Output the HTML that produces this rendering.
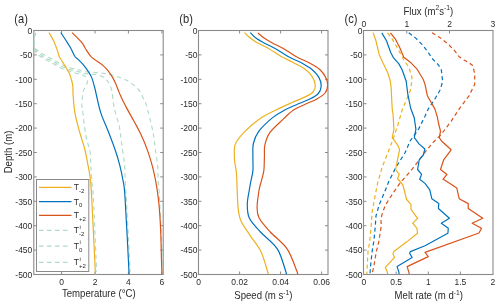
<!DOCTYPE html>
<html><head><meta charset="utf-8"><style>
html,body{margin:0;padding:0;background:#fff;width:500px;height:307px;overflow:hidden}
svg{display:block;will-change:transform}
text{font-family:"Liberation Sans",sans-serif}
</style></head><body>
<svg width="500" height="307" viewBox="0 0 500 307">
<defs>
<clipPath id="ca"><rect x="33.8" y="30.5" width="129.39999999999998" height="244.0"/></clipPath>
<clipPath id="cb"><rect x="198.5" y="30.5" width="129.5" height="244.0"/></clipPath>
<clipPath id="cc"><rect x="363.5" y="30.5" width="129.5" height="244.0"/></clipPath>
</defs>
<rect x="33.8" y="30.5" width="129.39999999999998" height="244.0" fill="none" stroke="#8a8a8a" stroke-width="1.1"/>
<path d="M33.8,30.50 h3.0" stroke="#8a8a8a" stroke-width="1"/>
<path d="M163.2,30.50 h-3.0" stroke="#8a8a8a" stroke-width="1"/>
<path d="M33.8,54.90 h3.0" stroke="#8a8a8a" stroke-width="1"/>
<path d="M163.2,54.90 h-3.0" stroke="#8a8a8a" stroke-width="1"/>
<path d="M33.8,79.30 h3.0" stroke="#8a8a8a" stroke-width="1"/>
<path d="M163.2,79.30 h-3.0" stroke="#8a8a8a" stroke-width="1"/>
<path d="M33.8,103.70 h3.0" stroke="#8a8a8a" stroke-width="1"/>
<path d="M163.2,103.70 h-3.0" stroke="#8a8a8a" stroke-width="1"/>
<path d="M33.8,128.10 h3.0" stroke="#8a8a8a" stroke-width="1"/>
<path d="M163.2,128.10 h-3.0" stroke="#8a8a8a" stroke-width="1"/>
<path d="M33.8,152.50 h3.0" stroke="#8a8a8a" stroke-width="1"/>
<path d="M163.2,152.50 h-3.0" stroke="#8a8a8a" stroke-width="1"/>
<path d="M33.8,176.90 h3.0" stroke="#8a8a8a" stroke-width="1"/>
<path d="M163.2,176.90 h-3.0" stroke="#8a8a8a" stroke-width="1"/>
<path d="M33.8,201.30 h3.0" stroke="#8a8a8a" stroke-width="1"/>
<path d="M163.2,201.30 h-3.0" stroke="#8a8a8a" stroke-width="1"/>
<path d="M33.8,225.70 h3.0" stroke="#8a8a8a" stroke-width="1"/>
<path d="M163.2,225.70 h-3.0" stroke="#8a8a8a" stroke-width="1"/>
<path d="M33.8,250.10 h3.0" stroke="#8a8a8a" stroke-width="1"/>
<path d="M163.2,250.10 h-3.0" stroke="#8a8a8a" stroke-width="1"/>
<path d="M33.8,274.50 h3.0" stroke="#8a8a8a" stroke-width="1"/>
<path d="M163.2,274.50 h-3.0" stroke="#8a8a8a" stroke-width="1"/>
<path d="M61.60,274.5 v-3.0" stroke="#8a8a8a" stroke-width="1"/>
<path d="M61.60,30.5 v3.0" stroke="#8a8a8a" stroke-width="1"/>
<path d="M95.00,274.5 v-3.0" stroke="#8a8a8a" stroke-width="1"/>
<path d="M95.00,30.5 v3.0" stroke="#8a8a8a" stroke-width="1"/>
<path d="M128.40,274.5 v-3.0" stroke="#8a8a8a" stroke-width="1"/>
<path d="M128.40,30.5 v3.0" stroke="#8a8a8a" stroke-width="1"/>
<path d="M161.80,274.5 v-3.0" stroke="#8a8a8a" stroke-width="1"/>
<path d="M161.80,30.5 v3.0" stroke="#8a8a8a" stroke-width="1"/>
<text transform="translate(32.3,33.7) scale(1,1.08)" font-size="8.5" text-anchor="end" fill="#2a2a2a">0</text>
<text transform="translate(32.3,58.1) scale(1,1.08)" font-size="8.5" text-anchor="end" fill="#2a2a2a">-50</text>
<text transform="translate(32.3,82.5) scale(1,1.08)" font-size="8.5" text-anchor="end" fill="#2a2a2a">-100</text>
<text transform="translate(32.3,106.9) scale(1,1.08)" font-size="8.5" text-anchor="end" fill="#2a2a2a">-150</text>
<text transform="translate(32.3,131.29999999999998) scale(1,1.08)" font-size="8.5" text-anchor="end" fill="#2a2a2a">-200</text>
<text transform="translate(32.3,155.7) scale(1,1.08)" font-size="8.5" text-anchor="end" fill="#2a2a2a">-250</text>
<text transform="translate(32.3,180.1) scale(1,1.08)" font-size="8.5" text-anchor="end" fill="#2a2a2a">-300</text>
<text transform="translate(32.3,204.5) scale(1,1.08)" font-size="8.5" text-anchor="end" fill="#2a2a2a">-350</text>
<text transform="translate(32.3,228.89999999999998) scale(1,1.08)" font-size="8.5" text-anchor="end" fill="#2a2a2a">-400</text>
<text transform="translate(32.3,253.29999999999998) scale(1,1.08)" font-size="8.5" text-anchor="end" fill="#2a2a2a">-450</text>
<text transform="translate(32.3,277.7) scale(1,1.08)" font-size="8.5" text-anchor="end" fill="#2a2a2a">-500</text>
<text transform="translate(61.6,285.4) scale(1,1.08)" font-size="8.5" text-anchor="middle" fill="#2a2a2a">0</text>
<text transform="translate(95.0,285.4) scale(1,1.08)" font-size="8.5" text-anchor="middle" fill="#2a2a2a">2</text>
<text transform="translate(128.4,285.4) scale(1,1.08)" font-size="8.5" text-anchor="middle" fill="#2a2a2a">4</text>
<text transform="translate(161.8,285.4) scale(1,1.08)" font-size="8.5" text-anchor="middle" fill="#2a2a2a">6</text>
<text transform="translate(98.8,296.6) scale(1,1.08)" font-size="9.6" text-anchor="middle" fill="#2a2a2a">Temperature (°C)</text>
<text transform="translate(12.1,152) rotate(-90) scale(1,1.08)" font-size="9.6" text-anchor="middle" fill="#2a2a2a">Depth (m)</text>
<text transform="translate(21.1,23.2) scale(1,1.08)" font-size="11.1" text-anchor="middle" fill="#2a2a2a">(a)</text>
<g clip-path="url(#ca)">
<path d="M35.80,33.00 C35.57,33.67 34.68,35.33 34.40,37.00 C34.12,38.67 34.10,41.17 34.10,43.00 C34.10,44.83 34.02,46.28 34.40,48.00 C34.78,49.72 35.10,51.70 36.40,53.30 C37.70,54.90 40.08,56.25 42.20,57.60 C44.32,58.95 46.75,60.10 49.10,61.40 C51.45,62.70 53.90,64.10 56.30,65.40 C58.70,66.70 61.05,68.13 63.50,69.20 C65.95,70.27 68.42,71.03 71.00,71.80 C73.58,72.57 77.50,73.45 79.00,73.80 C80.50,74.15 79.00,73.48 80.00,73.90 C81.00,74.32 83.75,75.10 85.00,76.30 C86.25,77.50 87.33,79.48 87.50,81.10 C87.67,82.72 86.68,84.37 86.00,86.00 C85.32,87.63 84.10,87.92 83.40,90.90 C82.70,93.88 81.98,101.05 81.80,103.90 C81.62,106.75 81.63,102.75 82.30,108.00 C82.97,113.25 84.52,128.13 85.80,135.40 C87.08,142.67 89.17,146.45 90.00,151.60 C90.83,156.75 90.47,161.13 90.80,166.30 C91.13,171.47 91.55,176.98 92.00,182.60 C92.45,188.22 92.73,185.13 93.50,200.00 C94.27,214.87 96.08,259.83 96.60,271.80" fill="none" stroke="#ADDAC4" stroke-width="1.1" stroke-dasharray="4.5 3.5" stroke-linejoin="round"/>
<path d="M35.80,33.00 C35.57,33.67 34.68,35.33 34.40,37.00 C34.12,38.67 34.10,41.17 34.10,43.00 C34.10,44.83 34.02,46.60 34.40,48.00 C34.78,49.40 35.10,50.12 36.40,51.40 C37.70,52.68 40.08,54.35 42.20,55.70 C44.32,57.05 46.75,58.20 49.10,59.50 C51.45,60.80 53.90,62.20 56.30,63.50 C58.70,64.80 61.05,66.23 63.50,67.30 C65.95,68.37 68.42,69.13 71.00,69.90 C73.58,70.67 76.80,71.30 79.00,71.90 C81.20,72.50 81.43,73.05 84.20,73.50 C86.97,73.95 92.62,74.10 95.60,74.60 C98.58,75.10 100.37,75.68 102.10,76.50 C103.83,77.32 104.90,78.47 106.00,79.50 C107.10,80.53 107.72,80.80 108.70,82.70 C109.68,84.60 111.10,87.37 111.90,90.90 C112.70,94.43 112.87,100.08 113.50,103.90 C114.13,107.72 114.72,109.95 115.70,113.80 C116.68,117.65 118.42,122.12 119.40,127.00 C120.38,131.88 120.75,136.82 121.60,143.10 C122.45,149.38 123.88,158.17 124.50,164.70 C125.12,171.23 124.98,176.42 125.30,182.30 C125.62,188.18 125.58,185.08 126.40,200.00 C127.22,214.92 129.57,259.83 130.20,271.80" fill="none" stroke="#ADDAC4" stroke-width="1.1" stroke-dasharray="4.5 3.5" stroke-linejoin="round"/>
<path d="M35.80,33.00 C35.57,33.67 34.68,35.33 34.40,37.00 C34.12,38.67 34.10,41.17 34.10,43.00 C34.10,44.83 34.02,46.92 34.40,48.00 C34.78,49.08 35.10,48.53 36.40,49.50 C37.70,50.47 40.08,52.45 42.20,53.80 C44.32,55.15 46.75,56.30 49.10,57.60 C51.45,58.90 53.90,60.30 56.30,61.60 C58.70,62.90 61.05,64.33 63.50,65.40 C65.95,66.47 68.42,67.23 71.00,68.00 C73.58,68.77 76.80,69.40 79.00,70.00 C81.20,70.60 81.43,71.17 84.20,71.60 C86.97,72.03 92.13,72.27 95.60,72.60 C99.07,72.93 101.48,72.95 105.00,73.60 C108.52,74.25 112.78,75.20 116.70,76.50 C120.62,77.80 124.92,79.28 128.50,81.40 C132.08,83.52 135.60,86.12 138.20,89.20 C140.80,92.28 142.72,97.15 144.10,99.90 C145.48,102.65 145.37,101.92 146.50,105.70 C147.63,109.48 149.67,117.33 150.90,122.60 C152.13,127.87 153.17,132.90 153.90,137.30 C154.63,141.70 154.70,144.43 155.30,149.00 C155.90,153.57 157.00,159.15 157.50,164.70 C158.00,170.25 158.00,177.42 158.30,182.30 C158.60,187.18 158.52,178.93 159.30,194.00 C160.08,209.07 162.38,259.58 163.00,272.70" fill="none" stroke="#ADDAC4" stroke-width="1.1" stroke-dasharray="4.5 3.5" stroke-linejoin="round"/>
<path d="M49.00,32.60 C49.75,33.92 52.08,37.47 53.50,40.50 C54.92,43.53 56.55,48.13 57.50,50.80 C58.45,53.47 58.32,54.60 59.20,56.50 C60.08,58.40 61.60,60.23 62.80,62.20 C64.00,64.17 65.27,66.33 66.40,68.30 C67.53,70.27 68.75,72.05 69.60,74.00 C70.45,75.95 70.97,78.00 71.50,80.00 C72.03,82.00 72.53,83.50 72.80,86.00 C73.07,88.50 72.75,90.52 73.10,95.00 C73.45,99.48 73.87,106.93 74.90,112.90 C75.93,118.87 77.67,124.78 79.30,130.80 C80.93,136.82 83.27,143.35 84.70,149.00 C86.13,154.65 86.95,159.65 87.90,164.70 C88.85,169.75 89.75,173.42 90.40,179.30 C91.05,185.18 90.98,184.58 91.80,200.00 C92.62,215.42 94.68,259.47 95.30,271.80 C95.92,284.13 95.47,273.63 95.50,274.00" fill="none" stroke="#EDB120" stroke-width="1.2" stroke-linejoin="round"/>
<path d="M60.80,32.60 C61.67,33.92 64.35,37.93 66.00,40.50 C67.65,43.07 69.23,45.38 70.70,48.00 C72.17,50.62 73.65,54.38 74.80,56.20 C75.95,58.02 76.23,57.53 77.60,58.90 C78.97,60.27 81.18,62.23 83.00,64.40 C84.82,66.57 87.02,69.62 88.50,71.90 C89.98,74.18 90.87,75.47 91.90,78.10 C92.93,80.73 93.95,84.88 94.70,87.70 C95.45,90.52 95.38,90.80 96.40,95.00 C97.42,99.20 98.87,106.93 100.80,112.90 C102.73,118.87 105.60,124.62 108.00,130.80 C110.40,136.98 113.27,144.35 115.20,150.00 C117.13,155.65 118.32,159.70 119.60,164.70 C120.88,169.70 122.00,174.62 122.90,180.00 C123.80,185.38 123.98,181.70 125.00,197.00 C126.02,212.30 128.32,258.97 129.00,271.80 C129.68,284.63 129.08,273.63 129.10,274.00" fill="none" stroke="#0072BD" stroke-width="1.2" stroke-linejoin="round"/>
<path d="M72.10,32.60 C73.73,34.28 79.73,40.13 81.90,42.70 C84.07,45.27 83.53,45.63 85.10,48.00 C86.67,50.37 88.30,53.97 91.30,56.90 C94.30,59.83 100.23,63.15 103.13,65.60 C106.03,68.05 107.12,69.60 108.71,71.60 C110.30,73.60 111.54,75.60 112.69,77.60 C113.83,79.60 114.72,81.60 115.60,83.60 C116.49,85.60 117.21,87.60 118.02,89.60 C118.83,91.60 119.59,93.60 120.47,95.60 C121.35,97.60 122.31,99.60 123.30,101.60 C124.30,103.60 125.36,105.60 126.44,107.60 C127.51,109.60 128.64,111.60 129.75,113.60 C130.86,115.60 132.00,117.60 133.11,119.60 C134.22,121.60 135.34,123.60 136.40,125.60 C137.47,127.60 138.52,129.60 139.50,131.60 C140.49,133.60 141.43,135.60 142.33,137.60 C143.22,139.60 144.07,141.60 144.89,143.60 C145.70,145.60 146.46,147.60 147.19,149.60 C147.92,151.60 148.61,153.60 149.26,155.60 C149.91,157.60 150.52,159.60 151.10,161.60 C151.68,163.60 152.22,165.60 152.73,167.60 C153.24,169.60 153.72,171.60 154.17,173.60 C154.61,175.60 155.03,177.60 155.42,179.60 C155.81,181.60 156.17,183.60 156.50,185.60 C156.84,187.60 157.14,189.60 157.43,191.60 C157.72,193.60 157.98,195.60 158.22,197.60 C158.46,199.60 158.68,201.60 158.88,203.60 C159.08,205.60 159.26,207.60 159.43,209.60 C159.59,211.60 159.74,213.60 159.87,215.60 C160.01,217.60 160.13,219.60 160.24,221.60 C160.35,223.60 160.44,225.60 160.53,227.60 C160.62,229.60 160.70,231.60 160.77,233.60 C160.84,235.60 160.90,237.60 160.96,239.60 C161.02,241.60 161.07,243.60 161.12,245.60 C161.18,247.60 161.22,249.60 161.27,251.60 C161.32,253.60 161.37,255.60 161.42,257.60 C161.47,259.60 161.52,261.60 161.58,263.60 C161.64,265.60 161.71,267.87 161.77,269.60 C161.83,271.33 161.90,273.27 161.93,274.00" fill="none" stroke="#D95319" stroke-width="1.2" stroke-linejoin="round"/>
</g>
<rect x="36.5" y="179.5" width="52.3" height="92.0" fill="#fff" stroke="#8a8a8a" stroke-width="1"/>
<path d="M39,187.4 H71.5" stroke="#EDB120" stroke-width="1.2"/>
<text transform="translate(73.8,190.3) scale(1,1.08)" font-size="8.5" fill="#2a2a2a">T</text>
<text x="79" y="193.0" font-size="6" fill="#2a2a2a">-2</text>
<path d="M39,201.7 H71.5" stroke="#0072BD" stroke-width="1.2"/>
<text transform="translate(73.8,204.6) scale(1,1.08)" font-size="8.5" fill="#2a2a2a">T</text>
<text x="79" y="207.29999999999998" font-size="6" fill="#2a2a2a">0</text>
<path d="M39,215.3 H71.5" stroke="#D95319" stroke-width="1.2"/>
<text transform="translate(73.8,218.20000000000002) scale(1,1.08)" font-size="8.5" fill="#2a2a2a">T</text>
<text x="79" y="220.9" font-size="6" fill="#2a2a2a">+2</text>
<path d="M39,230.3 H68" stroke="#ADDAC4" stroke-width="1.2" stroke-dasharray="4.5 3.5"/>
<text transform="translate(73.8,233.20000000000002) scale(1,1.08)" font-size="8.5" fill="#2a2a2a">T</text>
<text x="79" y="235.9" font-size="6" fill="#2a2a2a">-2</text>
<text x="79.5" y="228.5" font-size="6" fill="#2a2a2a">i</text>
<path d="M39,246.2 H68" stroke="#ADDAC4" stroke-width="1.2" stroke-dasharray="4.5 3.5"/>
<text transform="translate(73.8,249.1) scale(1,1.08)" font-size="8.5" fill="#2a2a2a">T</text>
<text x="79" y="251.79999999999998" font-size="6" fill="#2a2a2a">0</text>
<text x="79.5" y="244.39999999999998" font-size="6" fill="#2a2a2a">i</text>
<path d="M39,262.4 H68" stroke="#ADDAC4" stroke-width="1.2" stroke-dasharray="4.5 3.5"/>
<text transform="translate(73.8,265.29999999999995) scale(1,1.08)" font-size="8.5" fill="#2a2a2a">T</text>
<text x="79" y="268.0" font-size="6" fill="#2a2a2a">+2</text>
<text x="79.5" y="260.59999999999997" font-size="6" fill="#2a2a2a">i</text>
<rect x="198.5" y="30.5" width="129.5" height="244.0" fill="none" stroke="#8a8a8a" stroke-width="1.1"/>
<path d="M198.5,30.50 h3.0" stroke="#8a8a8a" stroke-width="1"/>
<path d="M328.0,30.50 h-3.0" stroke="#8a8a8a" stroke-width="1"/>
<path d="M198.5,54.90 h3.0" stroke="#8a8a8a" stroke-width="1"/>
<path d="M328.0,54.90 h-3.0" stroke="#8a8a8a" stroke-width="1"/>
<path d="M198.5,79.30 h3.0" stroke="#8a8a8a" stroke-width="1"/>
<path d="M328.0,79.30 h-3.0" stroke="#8a8a8a" stroke-width="1"/>
<path d="M198.5,103.70 h3.0" stroke="#8a8a8a" stroke-width="1"/>
<path d="M328.0,103.70 h-3.0" stroke="#8a8a8a" stroke-width="1"/>
<path d="M198.5,128.10 h3.0" stroke="#8a8a8a" stroke-width="1"/>
<path d="M328.0,128.10 h-3.0" stroke="#8a8a8a" stroke-width="1"/>
<path d="M198.5,152.50 h3.0" stroke="#8a8a8a" stroke-width="1"/>
<path d="M328.0,152.50 h-3.0" stroke="#8a8a8a" stroke-width="1"/>
<path d="M198.5,176.90 h3.0" stroke="#8a8a8a" stroke-width="1"/>
<path d="M328.0,176.90 h-3.0" stroke="#8a8a8a" stroke-width="1"/>
<path d="M198.5,201.30 h3.0" stroke="#8a8a8a" stroke-width="1"/>
<path d="M328.0,201.30 h-3.0" stroke="#8a8a8a" stroke-width="1"/>
<path d="M198.5,225.70 h3.0" stroke="#8a8a8a" stroke-width="1"/>
<path d="M328.0,225.70 h-3.0" stroke="#8a8a8a" stroke-width="1"/>
<path d="M198.5,250.10 h3.0" stroke="#8a8a8a" stroke-width="1"/>
<path d="M328.0,250.10 h-3.0" stroke="#8a8a8a" stroke-width="1"/>
<path d="M198.5,274.50 h3.0" stroke="#8a8a8a" stroke-width="1"/>
<path d="M328.0,274.50 h-3.0" stroke="#8a8a8a" stroke-width="1"/>
<path d="M239.60,274.5 v-3.0" stroke="#8a8a8a" stroke-width="1"/>
<path d="M239.60,30.5 v3.0" stroke="#8a8a8a" stroke-width="1"/>
<path d="M280.60,274.5 v-3.0" stroke="#8a8a8a" stroke-width="1"/>
<path d="M280.60,30.5 v3.0" stroke="#8a8a8a" stroke-width="1"/>
<path d="M321.60,274.5 v-3.0" stroke="#8a8a8a" stroke-width="1"/>
<path d="M321.60,30.5 v3.0" stroke="#8a8a8a" stroke-width="1"/>
<text transform="translate(197.5,33.7) scale(1,1.08)" font-size="8.5" text-anchor="end" fill="#2a2a2a">0</text>
<text transform="translate(197.5,58.1) scale(1,1.08)" font-size="8.5" text-anchor="end" fill="#2a2a2a">-50</text>
<text transform="translate(197.5,82.5) scale(1,1.08)" font-size="8.5" text-anchor="end" fill="#2a2a2a">-100</text>
<text transform="translate(197.5,106.9) scale(1,1.08)" font-size="8.5" text-anchor="end" fill="#2a2a2a">-150</text>
<text transform="translate(197.5,131.29999999999998) scale(1,1.08)" font-size="8.5" text-anchor="end" fill="#2a2a2a">-200</text>
<text transform="translate(197.5,155.7) scale(1,1.08)" font-size="8.5" text-anchor="end" fill="#2a2a2a">-250</text>
<text transform="translate(197.5,180.1) scale(1,1.08)" font-size="8.5" text-anchor="end" fill="#2a2a2a">-300</text>
<text transform="translate(197.5,204.5) scale(1,1.08)" font-size="8.5" text-anchor="end" fill="#2a2a2a">-350</text>
<text transform="translate(197.5,228.89999999999998) scale(1,1.08)" font-size="8.5" text-anchor="end" fill="#2a2a2a">-400</text>
<text transform="translate(197.5,253.29999999999998) scale(1,1.08)" font-size="8.5" text-anchor="end" fill="#2a2a2a">-450</text>
<text transform="translate(197.5,277.7) scale(1,1.08)" font-size="8.5" text-anchor="end" fill="#2a2a2a">-500</text>
<text transform="translate(198.5,285.4) scale(1,1.08)" font-size="8.5" text-anchor="middle" fill="#2a2a2a">0</text>
<text transform="translate(239.6,285.4) scale(1,1.08)" font-size="8.5" text-anchor="middle" fill="#2a2a2a">0.02</text>
<text transform="translate(280.6,285.4) scale(1,1.08)" font-size="8.5" text-anchor="middle" fill="#2a2a2a">0.04</text>
<text transform="translate(321.6,285.4) scale(1,1.08)" font-size="8.5" text-anchor="middle" fill="#2a2a2a">0.06</text>
<text transform="translate(263.4,299.3) scale(1,1.08)" font-size="9.6" text-anchor="middle" fill="#2a2a2a">Speed (m s<tspan font-size="6.8" dy="-4.4">-1</tspan><tspan dy="4.4">)</tspan></text>
<text transform="translate(186.1,23.2) scale(1,1.08)" font-size="11.1" text-anchor="middle" fill="#2a2a2a">(b)</text>
<g clip-path="url(#cb)">
<path d="M244.50,32.60 C245.25,33.33 246.88,35.32 249.00,37.00 C251.12,38.68 253.93,40.80 257.20,42.70 C260.47,44.60 264.52,46.05 268.60,48.40 C272.68,50.75 277.55,54.42 281.70,56.80 C285.85,59.18 289.75,60.73 293.50,62.70 C297.25,64.67 301.12,66.32 304.20,68.60 C307.28,70.88 310.15,73.63 312.00,76.40 C313.85,79.17 315.13,82.60 315.30,85.20 C315.47,87.80 314.68,90.05 313.00,92.00 C311.32,93.95 308.78,95.10 305.20,96.90 C301.62,98.70 296.38,100.62 291.50,102.80 C286.62,104.98 280.88,107.53 275.90,110.00 C270.92,112.47 266.72,114.07 261.60,117.60 C256.48,121.13 249.53,126.88 245.20,131.20 C240.87,135.52 237.42,140.07 235.60,143.50 C233.78,146.93 234.43,148.60 234.30,151.80 C234.17,155.00 234.43,159.07 234.80,162.70 C235.17,166.33 235.97,166.25 236.50,173.60 C237.03,180.95 237.27,198.93 238.00,206.80 C238.73,214.67 238.78,215.88 240.90,220.80 C243.02,225.72 247.35,231.15 250.70,236.30 C254.05,241.45 258.20,245.87 261.00,251.70 C263.80,257.53 266.33,267.58 267.50,271.30 C268.67,275.02 267.92,273.55 268.00,274.00" fill="none" stroke="#EDB120" stroke-width="1.2" stroke-linejoin="round"/>
<path d="M250.30,32.60 C251.18,33.47 253.37,36.12 255.60,37.80 C257.83,39.48 260.45,40.93 263.70,42.70 C266.95,44.47 270.95,46.05 275.10,48.40 C279.25,50.75 284.23,54.42 288.60,56.80 C292.97,59.18 297.40,60.58 301.30,62.70 C305.20,64.82 309.07,67.05 312.00,69.50 C314.93,71.95 317.37,74.62 318.90,77.40 C320.43,80.18 321.37,83.43 321.20,86.20 C321.03,88.97 320.08,91.73 317.90,94.00 C315.72,96.27 311.68,98.02 308.10,99.80 C304.52,101.58 300.30,103.00 296.40,104.70 C292.50,106.40 288.67,107.85 284.70,110.00 C280.73,112.15 276.90,114.07 272.60,117.60 C268.30,121.13 262.10,126.88 258.90,131.20 C255.70,135.52 254.40,139.17 253.40,143.50 C252.40,147.83 252.98,152.63 252.90,157.20 C252.82,161.77 253.27,166.80 252.90,170.90 C252.53,175.00 251.30,178.62 250.70,181.80 C250.10,184.98 249.87,186.30 249.30,190.00 C248.73,193.70 247.30,199.33 247.30,204.00 C247.30,208.67 247.10,213.33 249.30,218.00 C251.50,222.67 255.83,226.85 260.50,232.00 C265.17,237.15 273.10,242.35 277.30,248.90 C281.50,255.45 284.25,267.12 285.70,271.30 C287.15,275.48 285.95,273.55 286.00,274.00" fill="none" stroke="#0072BD" stroke-width="1.2" stroke-linejoin="round"/>
<path d="M257.70,32.90 C258.70,33.72 261.33,36.17 263.70,37.80 C266.07,39.43 268.63,40.93 271.90,42.70 C275.17,44.47 279.22,46.05 283.30,48.40 C287.38,50.75 292.10,54.42 296.40,56.80 C300.70,59.18 305.20,60.58 309.10,62.70 C313.00,64.82 317.03,67.05 319.80,69.50 C322.57,71.95 324.38,74.78 325.70,77.40 C327.02,80.02 327.80,82.60 327.70,85.20 C327.60,87.80 326.90,90.72 325.10,93.00 C323.30,95.28 320.38,96.95 316.90,98.90 C313.42,100.85 308.10,102.85 304.20,104.70 C300.30,106.55 296.95,107.63 293.50,110.00 C290.05,112.37 287.45,115.13 283.50,118.90 C279.55,122.67 272.90,128.27 269.80,132.60 C266.70,136.93 265.80,140.80 264.90,144.90 C264.00,149.00 264.58,152.87 264.40,157.20 C264.22,161.53 264.35,166.80 263.80,170.90 C263.25,175.00 261.88,178.62 261.10,181.80 C260.32,184.98 259.77,185.83 259.10,190.00 C258.43,194.17 257.10,202.13 257.10,206.80 C257.10,211.47 256.90,213.80 259.10,218.00 C261.30,222.20 265.63,226.85 270.30,232.00 C274.97,237.15 282.67,242.35 287.10,248.90 C291.53,255.45 295.20,267.12 296.90,271.30 C298.60,275.48 297.23,273.55 297.30,274.00" fill="none" stroke="#D95319" stroke-width="1.2" stroke-linejoin="round"/>
</g>
<rect x="363.5" y="30.5" width="129.5" height="244.0" fill="none" stroke="#8a8a8a" stroke-width="1.1"/>
<path d="M363.5,30.50 h3.0" stroke="#8a8a8a" stroke-width="1"/>
<path d="M363.5,54.90 h3.0" stroke="#8a8a8a" stroke-width="1"/>
<path d="M363.5,79.30 h3.0" stroke="#8a8a8a" stroke-width="1"/>
<path d="M363.5,103.70 h3.0" stroke="#8a8a8a" stroke-width="1"/>
<path d="M363.5,128.10 h3.0" stroke="#8a8a8a" stroke-width="1"/>
<path d="M363.5,152.50 h3.0" stroke="#8a8a8a" stroke-width="1"/>
<path d="M363.5,176.90 h3.0" stroke="#8a8a8a" stroke-width="1"/>
<path d="M363.5,201.30 h3.0" stroke="#8a8a8a" stroke-width="1"/>
<path d="M363.5,225.70 h3.0" stroke="#8a8a8a" stroke-width="1"/>
<path d="M363.5,250.10 h3.0" stroke="#8a8a8a" stroke-width="1"/>
<path d="M363.5,274.50 h3.0" stroke="#8a8a8a" stroke-width="1"/>
<path d="M396.20,274.5 v-3.0" stroke="#8a8a8a" stroke-width="1"/>
<path d="M428.30,274.5 v-3.0" stroke="#8a8a8a" stroke-width="1"/>
<path d="M460.40,274.5 v-3.0" stroke="#8a8a8a" stroke-width="1"/>
<path d="M406.80,30.5 v3.0" stroke="#8a8a8a" stroke-width="1"/>
<path d="M449.50,30.5 v3.0" stroke="#8a8a8a" stroke-width="1"/>
<text transform="translate(362.5,33.7) scale(1,1.08)" font-size="8.5" text-anchor="end" fill="#2a2a2a">0</text>
<text transform="translate(362.5,58.1) scale(1,1.08)" font-size="8.5" text-anchor="end" fill="#2a2a2a">-50</text>
<text transform="translate(362.5,82.5) scale(1,1.08)" font-size="8.5" text-anchor="end" fill="#2a2a2a">-100</text>
<text transform="translate(362.5,106.9) scale(1,1.08)" font-size="8.5" text-anchor="end" fill="#2a2a2a">-150</text>
<text transform="translate(362.5,131.29999999999998) scale(1,1.08)" font-size="8.5" text-anchor="end" fill="#2a2a2a">-200</text>
<text transform="translate(362.5,155.7) scale(1,1.08)" font-size="8.5" text-anchor="end" fill="#2a2a2a">-250</text>
<text transform="translate(362.5,180.1) scale(1,1.08)" font-size="8.5" text-anchor="end" fill="#2a2a2a">-300</text>
<text transform="translate(362.5,204.5) scale(1,1.08)" font-size="8.5" text-anchor="end" fill="#2a2a2a">-350</text>
<text transform="translate(362.5,228.89999999999998) scale(1,1.08)" font-size="8.5" text-anchor="end" fill="#2a2a2a">-400</text>
<text transform="translate(362.5,253.29999999999998) scale(1,1.08)" font-size="8.5" text-anchor="end" fill="#2a2a2a">-450</text>
<text transform="translate(362.5,277.7) scale(1,1.08)" font-size="8.5" text-anchor="end" fill="#2a2a2a">-500</text>
<text transform="translate(363.8,285.4) scale(1,1.08)" font-size="8.5" text-anchor="middle" fill="#2a2a2a">0</text>
<text transform="translate(396.2,285.4) scale(1,1.08)" font-size="8.5" text-anchor="middle" fill="#2a2a2a">0.5</text>
<text transform="translate(428.3,285.4) scale(1,1.08)" font-size="8.5" text-anchor="middle" fill="#2a2a2a">1</text>
<text transform="translate(460.4,285.4) scale(1,1.08)" font-size="8.5" text-anchor="middle" fill="#2a2a2a">1.5</text>
<text transform="translate(492.8,285.4) scale(1,1.08)" font-size="8.5" text-anchor="middle" fill="#2a2a2a">2</text>
<text transform="translate(363.8,26.5) scale(1,1.08)" font-size="8.5" text-anchor="middle" fill="#2a2a2a">0</text>
<text transform="translate(406.8,26.5) scale(1,1.08)" font-size="8.5" text-anchor="middle" fill="#2a2a2a">1</text>
<text transform="translate(449.5,26.5) scale(1,1.08)" font-size="8.5" text-anchor="middle" fill="#2a2a2a">2</text>
<text transform="translate(492.8,26.5) scale(1,1.08)" font-size="8.5" text-anchor="middle" fill="#2a2a2a">3</text>
<text transform="translate(428.8,299.3) scale(1,1.08)" font-size="9.6" text-anchor="middle" fill="#2a2a2a">Melt rate (m d<tspan font-size="6.8" dy="-4.4">-1</tspan><tspan dy="4.4">)</tspan></text>
<text transform="translate(428.4,14.8) scale(1,1.08)" font-size="9.6" text-anchor="middle" fill="#2a2a2a">Flux (m<tspan font-size="6.8" dy="-4.4">2</tspan><tspan dy="4.4">s</tspan><tspan font-size="6.8" dy="-4.4">-1</tspan><tspan dy="4.4">)</tspan></text>
<text transform="translate(351.0,23.2) scale(1,1.08)" font-size="11.1" text-anchor="middle" fill="#2a2a2a">(c)</text>
<g clip-path="url(#cc)">
<path d="M387.50,32.90 L391.50,37.80 L398.10,49.20 L403.80,59.80 L408.70,67.10 L411.90,76.90 L411.90,81.20 L410.20,90.90 L402.10,110.00 L398.00,124.50 L393.10,139.20 L387.40,153.90 L382.50,166.30 L377.70,182.60 L374.40,199.50 L372.00,212.60 L371.10,227.20 L369.70,241.60 L368.00,251.60 L367.20,266.60 L366.80,274.00" fill="none" stroke="#EDB120" stroke-width="1.2" stroke-dasharray="4 3" stroke-linejoin="round"/>
<path d="M408.80,32.80 L416.00,38.40 L422.40,44.80 L428.00,52.00 L432.00,58.40 L438.40,64.80 L441.30,69.80 L442.60,81.20 L440.50,89.30 L434.80,99.10 L428.30,108.90 L424.90,116.40 L418.40,129.40 L410.20,140.80 L405.30,152.20 L395.60,167.90 L389.10,180.90 L384.20,193.00 L379.30,204.40 L376.00,215.80 L375.20,227.20 L373.80,241.60 L372.10,251.60 L370.50,266.60 L370.00,274.00" fill="none" stroke="#0072BD" stroke-width="1.2" stroke-dasharray="4 3" stroke-linejoin="round"/>
<path d="M432.00,32.80 L440.00,37.60 L448.00,44.00 L454.40,50.40 L459.20,56.80 L464.10,60.00 L472.20,64.90 L474.70,73.00 L474.70,84.40 L469.00,95.80 L459.20,108.90 L451.10,121.30 L441.30,134.30 L433.10,142.50 L425.70,151.40 L411.90,169.50 L400.50,182.40 L393.10,193.00 L385.80,204.40 L382.50,212.60 L380.90,219.10 L381.30,225.80 L378.80,241.60 L376.30,251.60 L373.80,266.60 L372.00,274.00" fill="none" stroke="#D95319" stroke-width="1.2" stroke-dasharray="4 3" stroke-linejoin="round"/>
<path d="M373.10,32.60 L376.00,41.00 L379.30,54.90 L380.90,58.20 L383.00,63.00 L385.50,68.00 L388.00,73.50 L390.20,80.50 L391.20,88.00 L391.60,97.50 L392.30,110.00 L393.10,114.80 L393.90,129.40 L392.30,137.60 L398.00,145.70 L399.60,149.80 L398.50,155.00 L397.20,161.40 L395.60,169.50 L399.20,174.40 L397.50,178.50 L402.90,185.00 L406.60,199.50 L411.00,204.40 L411.00,209.30 L417.60,218.30 L412.70,223.20 L417.00,228.30 L417.50,233.30 L407.10,241.60 L393.80,251.60 L392.90,254.10 L394.60,257.40 L385.40,267.40 L387.10,271.60 L387.60,274.00" fill="none" stroke="#EDB120" stroke-width="1.2" stroke-linejoin="round"/>
<path d="M381.80,32.90 L386.60,41.00 L390.70,52.50 L393.20,57.30 L398.90,63.90 L402.10,69.80 L406.20,81.20 L407.80,94.20 L410.60,108.00 L414.30,118.00 L415.90,129.40 L414.30,137.60 L419.20,144.10 L424.90,149.00 L423.30,155.00 L419.20,159.80 L417.60,169.50 L421.60,174.40 L419.70,179.30 L425.00,183.40 L429.80,189.80 L431.80,198.70 L438.80,203.60 L438.40,208.50 L449.40,218.30 L441.30,223.20 L448.30,228.30 L447.90,233.30 L425.00,245.80 L410.40,251.60 L409.60,253.30 L412.10,257.40 L397.10,266.60 L398.70,271.60 L399.20,274.00" fill="none" stroke="#0072BD" stroke-width="1.2" stroke-linejoin="round"/>
<path d="M390.40,32.90 L395.60,39.40 L399.70,47.60 L403.80,57.30 L410.30,62.20 L416.80,68.80 L423.30,79.50 L425.00,84.40 L427.40,95.80 L434.80,108.90 L437.20,116.40 L438.80,124.50 L440.50,131.10 L439.30,137.60 L441.30,140.80 L451.10,149.80 L443.70,159.80 L440.50,169.50 L447.00,174.40 L442.90,179.30 L444.50,180.00 L456.80,188.10 L459.20,198.70 L468.20,203.60 L468.20,208.50 L482.80,218.30 L472.20,223.20 L481.50,228.30 L479.00,233.00 L425.00,252.40 L428.30,256.60 L407.10,266.60 L408.70,271.60 L409.20,274.00" fill="none" stroke="#D95319" stroke-width="1.2" stroke-linejoin="round"/>
</g>

</svg>
</body></html>
